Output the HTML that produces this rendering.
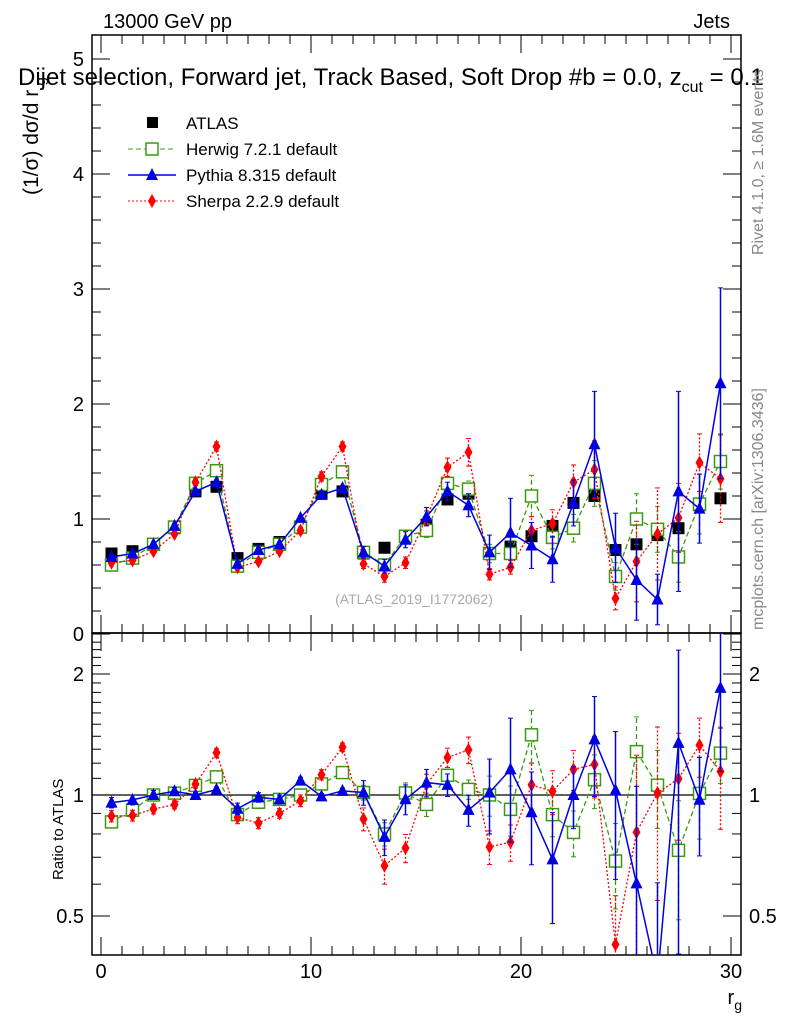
<!DOCTYPE html>
<html><head><meta charset="utf-8"><style>
html,body{margin:0;background:#fff;width:786px;height:1024px;overflow:hidden;}
svg{display:block;font-family:"Liberation Sans",sans-serif;}
</style></head><body>
<svg id="s" width="786" height="1024" viewBox="0 0 786 1024">
<defs>
<clipPath id="cm"><rect x="92" y="35" width="649" height="598"/></clipPath>
<clipPath id="cr"><rect x="92" y="633" width="649" height="322"/></clipPath>
</defs>
<text x="103" y="28" font-size="20">13000 GeV pp</text>
<text x="730" y="28" font-size="20" text-anchor="end">Jets</text>
<text x="18" y="85" font-size="24">Dijet selection, Forward jet, Track Based, Soft Drop #b = 0.0, z<tspan font-size="16" dy="7">cut</tspan><tspan dy="-7"> = 0.1</tspan></text>
<text transform="translate(38,195) rotate(-90)" font-size="21">(1/σ) dσ/d r<tspan font-size="15" dy="7"> g</tspan></text>
<text transform="translate(63,880) rotate(-90)" font-size="15">Ratio to ATLAS</text>
<text transform="translate(763,255) rotate(-90)" font-size="16" fill="#888">Rivet 4.1.0, ≥ 1.6M events</text>
<text transform="translate(763,630) rotate(-90)" font-size="16" fill="#888">mcplots.cern.ch [arXiv:1306.3436]</text>
<text x="414" y="604" font-size="14" fill="#aaa" text-anchor="middle">(ATLAS_2019_I1772062)</text>
<text x="742" y="1004" font-size="20" text-anchor="end">r<tspan font-size="14" dy="6">g</tspan></text>
<g id="legend">
<rect x="147" y="117" width="11" height="11" fill="#000"/>
<text x="186" y="129" font-size="17">ATLAS</text>
<line x1="128" y1="149" x2="176" y2="149" stroke="#3a9a10" stroke-dasharray="5,3"/>
<rect x="146" y="143" width="12" height="12" fill="#fff" stroke="#3a9a10" stroke-width="1.5"/>
<text x="186" y="155" font-size="17">Herwig 7.2.1 default</text>
<line x1="128" y1="175" x2="176" y2="175" stroke="#0000e0" stroke-width="1.5"/>
<path d="M152,168 L158,180 L146,180Z" fill="#0000e0"/>
<text x="186" y="181" font-size="17">Pythia 8.315 default</text>
<line x1="128" y1="201" x2="176" y2="201" stroke="#f00" stroke-dasharray="2,2"/>
<path d="M152,194 L156,201 L152,208 L148,201Z" fill="#f00"/>
<text x="186" y="207" font-size="17">Sherpa 2.2.9 default</text>
</g>
<g id="frames"></g>
<g id="main" clip-path="url(#cm)"></g>
<g id="ratio" clip-path="url(#cr)"></g>
</svg>
<script>
const xCenters=[0.5,1.5,2.5,3.5,4.5,5.5,6.5,7.5,8.5,9.5,10.5,11.5,12.5,13.5,14.5,15.5,16.5,17.5,18.5,19.5,20.5,21.5,22.5,23.5,24.5,25.5,26.5,27.5,28.5,29.5];
const atlas=[0.70,0.72,0.78,0.92,1.24,1.28,0.66,0.74,0.80,0.93,1.22,1.24,0.70,0.75,0.84,0.95,1.17,1.22,0.70,0.76,0.85,0.94,1.14,1.20,0.73,0.78,0.86,0.92,1.12,1.18];
const herwig=[0.60,0.66,0.78,0.93,1.31,1.42,0.59,0.71,0.78,0.93,1.30,1.41,0.71,0.60,0.85,0.90,1.31,1.26,0.70,0.70,1.20,0.84,0.92,1.31,0.50,1.00,0.91,0.67,1.13,1.50];
const herwigErr=[0.02,0.02,0.02,0.02,0.03,0.03,0.02,0.02,0.02,0.03,0.03,0.03,0.03,0.04,0.05,0.06,0.06,0.07,0.08,0.10,0.18,0.10,0.12,0.20,0.12,0.22,0.20,0.22,0.26,0.24];
const pythia=[0.67,0.70,0.78,0.94,1.24,1.32,0.61,0.73,0.78,1.01,1.21,1.27,0.71,0.59,0.82,1.02,1.24,1.12,0.71,0.88,0.77,0.65,1.14,1.65,0.75,0.47,0.30,1.24,1.09,2.18];
const pythiaErr=[0.02,0.02,0.02,0.02,0.02,0.02,0.02,0.02,0.02,0.02,0.02,0.02,0.05,0.06,0.07,0.08,0.08,0.10,0.15,0.30,0.20,0.20,0.20,0.46,0.30,0.35,0.22,0.87,0.30,0.83];
const sherpa=[0.62,0.64,0.72,0.87,1.32,1.63,0.58,0.63,0.72,0.90,1.37,1.63,0.61,0.50,0.62,1.01,1.45,1.58,0.52,0.58,0.90,0.96,1.32,1.43,0.31,0.63,0.87,1.01,1.49,1.35];
const sherpaErr=[0.02,0.02,0.02,0.02,0.03,0.04,0.02,0.02,0.02,0.03,0.04,0.04,0.04,0.05,0.05,0.06,0.08,0.12,0.05,0.06,0.12,0.12,0.15,0.25,0.10,0.35,0.40,0.30,0.25,0.38];
const xTicks=[0,10,20,30];
const yTicks=[0,1,2,3,4,5];
const rTicks=[0.5,1,2];

const NS="http://www.w3.org/2000/svg";
const X=v=>101+21*v;
const Y=v=>634-115*v;
const R=v=>795-121*Math.log2(v);
function mk(tag,attrs,parent){const e=document.createElementNS(NS,tag);for(const k in attrs)e.setAttribute(k,attrs[k]);parent.appendChild(e);return e;}
const F=document.getElementById('frames'),M=document.getElementById('main'),RG=document.getElementById('ratio');

let f1=mk('rect',{x:92,y:35,width:649,height:598,fill:'none',stroke:'#000','stroke-width':1.5},F);


let f2=mk('rect',{x:92,y:633,width:649,height:322,fill:'none',stroke:'#000','stroke-width':1.5},F);


for(let v=0;v<=30;v++){const big=v%10===0,len=big?18:9;
 [[633,-1],[955,-1],[633,1],[35,1]].forEach(([y0,d])=>mk('line',{x1:X(v),x2:X(v),y1:y0,y2:y0+d*len,stroke:'#000'},F));}
xTicks.forEach(v=>{const t=mk('text',{x:X(v),y:978,'font-size':20,'text-anchor':'middle'},F);t.textContent=v;

});
for(let v=0;v<=5.2;v+=0.2){const big=Math.abs(v-Math.round(v))<1e-6,len=big?18:9;
 mk('line',{x1:92,x2:92+len,y1:Y(v),y2:Y(v),stroke:'#000'},F);mk('line',{x1:741,x2:741-len,y1:Y(v),y2:Y(v),stroke:'#000'},F);}
yTicks.forEach(v=>{const t=mk('text',{x:84,y:Y(v)+7,'font-size':20,'text-anchor':'end'},F);t.textContent=v;

});
for(let v=0.4;v<=2.5;v+=0.1){const rv=Math.round(v*10)/10;const big=rTicks.includes(rv);const len=big?18:9;
 mk('line',{x1:92,x2:92+len,y1:R(rv),y2:R(rv),stroke:'#000'},F);mk('line',{x1:741,x2:741-len,y1:R(rv),y2:R(rv),stroke:'#000'},F);}
rTicks.forEach(v=>{[[84,'end'],[749,'start']].forEach(([x,a])=>{const t=mk('text',{x:x,y:R(v)+7,'font-size':20,'text-anchor':a},F);t.textContent=v;

});});
mk('line',{x1:92,x2:741,y1:R(1),y2:R(1),stroke:'#000','stroke-width':1.2},RG);

function marker(kind,x,y,g){
 if(kind==='sq')return mk('rect',{x:x-6,y:y-6,width:12,height:12,fill:'#fff',stroke:'#3a9a10','stroke-width':1.5},g);
 if(kind==='tri')return mk('path',{d:`M${x},${y-7}L${x+6},${y+5}L${x-6},${y+5}Z`,fill:'#0000e0'},g);
 if(kind==='dia')return mk('path',{d:`M${x},${y-7}L${x+4},${y}L${x},${y+7}L${x-4},${y}Z`,fill:'#f00'},g);
}
const series=[
 {n:'herwig',v:herwig,e:herwigErr,c:'#3a9a10',dash:'5,3',w:1.3,k:'sq'},
 {n:'sherpa',v:sherpa,e:sherpaErr,c:'#f00',dash:'2,2',w:1.3,k:'dia'},
 {n:'pythia',v:pythia,e:pythiaErr,c:'#0000e0',dash:'',w:1.5,k:'tri'}];
atlas.forEach((v,i)=>{const r=mk('rect',{x:X(xCenters[i])-6,y:Y(v)-6,width:12,height:12,fill:'#000'},M);

});
series.forEach(s=>{
 [[M,Y,s.v,s.e],[RG,R,s.v.map((v,i)=>v/atlas[i]),s.e.map((e,i)=>e/atlas[i])]].forEach(([g,YY,vals,errs])=>{
  const pts=vals.map((v,i)=>`${X(xCenters[i])},${YY(Math.max(v,0.05))}`).join(' ');
  const pl=mk('polyline',{points:pts,fill:'none',stroke:s.c,'stroke-width':s.w,'stroke-dasharray':s.dash},g);
  
  
  vals.forEach((v,i)=>{const x=X(xCenters[i]);
   const lo=Math.max(v-errs[i],0.05),hi=v+errs[i];
   mk('line',{x1:x,x2:x,y1:YY(lo),y2:YY(hi),stroke:s.c,'stroke-width':s.w,'stroke-dasharray':s.dash},g);
   mk('line',{x1:x-2.5,x2:x+2.5,y1:YY(lo),y2:YY(lo),stroke:s.c},g);
   mk('line',{x1:x-2.5,x2:x+2.5,y1:YY(hi),y2:YY(hi),stroke:s.c},g);
   const m=marker(s.k,x,YY(Math.max(v,0.05)),g);
   
   
  });
 });
});
</script>
</body></html>
